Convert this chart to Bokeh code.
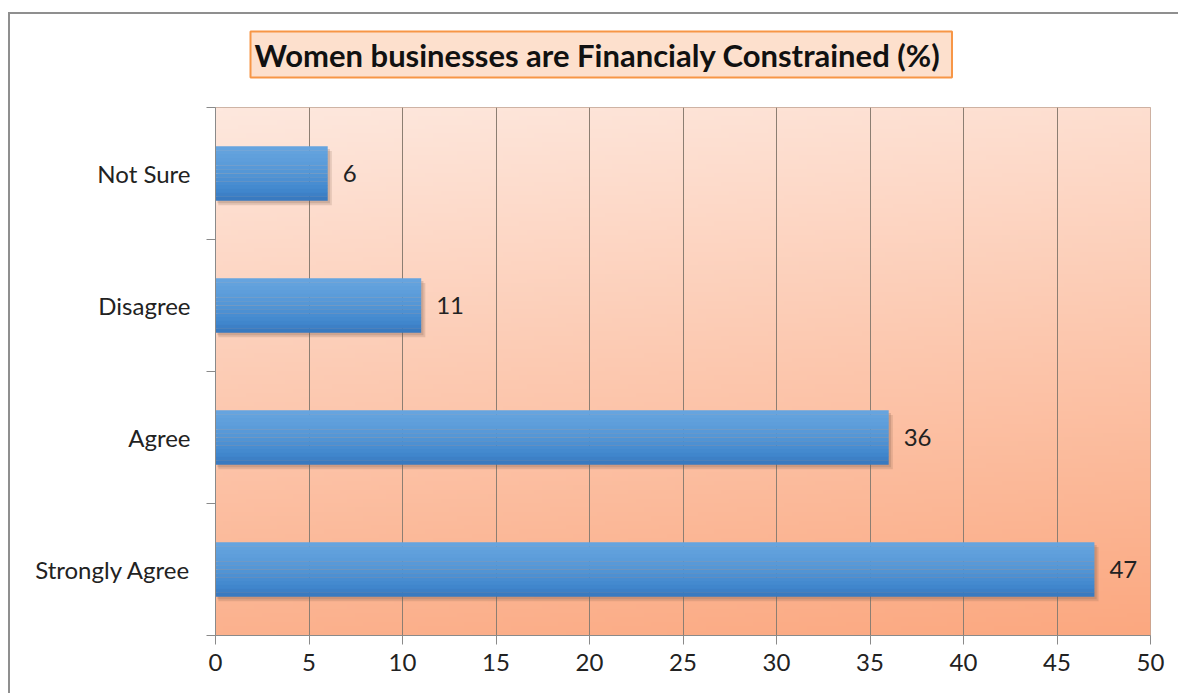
import numpy as np
from bokeh.plotting import figure
from bokeh.models import (FixedTicker, ColumnDataSource, LabelSet, Range1d, Title)
from bokeh.core.properties import value
from bokeh.embed import file_html
from bokeh.resources import INLINE

# ---- data ----
categories = ["Strongly Agree", "Agree", "Disagree", "Not Sure"]  # bottom -> top
values = [47, 36, 11, 6]
x_ticks = [0, 5, 10, 15, 20, 25, 30, 35, 40, 45, 50]
title_text = "Women businesses are Financialy  Constrained (%)"

FONT = "Lato"
FS = "24px"
BW = 2                               # outer border width
OX, OY = 8, 12                       # outer chart offset in the window
CX, CY = OX + BW, OY + BW            # canvas origin in the window
W, H = 1180 - CX, 695 - CY
L, R, T, B = 215 - CX, 30, 107 - CY, 60

p = figure(width=W, height=H, output_backend="svg", toolbar_location=None,
           x_range=Range1d(0, 50), y_range=Range1d(0, len(categories)),
           min_border_left=L, min_border_right=R, min_border_top=T, min_border_bottom=B,
           background_fill_color="white", border_fill_color="white",
           margin=(OY, 0, 0, OX),
           styles={"border-left": f"{BW}px solid #8f8f8f", "border-top": f"{BW}px solid #8f8f8f"})

# spacer between frame and title box
p.add_layout(Title(text=" ", text_font_size="1px", standoff=17, padding=0,
                   text_color="white"), "above")

p.title = Title(text=title_text, align="left", offset=35, text_font=FONT, text_font_style="bold",
                text_font_size="31px", text_color="#111111",
                background_fill_color="#fde0cd", border_line_color="#f79646",
                border_line_width=2, padding=4, standoff=20)

# background gradient of plot area
ny, nx = 120, 120
yy, xx = np.mgrid[0:ny, 0:nx]
yf = yy / (ny - 1)   # 0 bottom, 1 top
xf = xx / (nx - 1)
t = np.clip(0.85 * (1 - yf) + 0.15 * xf, 0, 1)
top = np.array([254, 232, 222])
bot = np.array([251, 168, 128])
img = np.empty((ny, nx), dtype=np.uint32)
view = img.view(dtype=np.uint8).reshape((ny, nx, 4))
for k in range(3):
    view[:, :, k] = (top[k] + (bot[k] - top[k]) * t).astype(np.uint8)
view[:, :, 3] = 255
p.image_rgba(image=[img], x=0, y=0, dw=50, dh=len(categories), level="image")

# bars
ypos = [i + 0.5 for i in range(len(categories))]
bh = 0.41
src = ColumnDataSource(dict(y=ypos, v=values, lab=[str(v) for v in values]))
# shadow
p.hbar(y=[y - 0.035 for y in ypos], left=0.15, right=[v + 0.22 for v in values],
       height=bh, fill_color="#7a5a4a", fill_alpha=0.18, line_color=None)
p.hbar(y=[y - 0.02 for y in ypos], left=0.1, right=[v + 0.12 for v in values],
       height=bh, fill_color="#7a5a4a", fill_alpha=0.22, line_color=None)
# gradient slices
stops = [(0.0, (104, 166, 224)), (0.45, (86, 152, 215)), (0.8, (66, 136, 206)), (1.0, (56, 120, 190))]
def col(f):
    for (f0, c0), (f1, c1) in zip(stops[:-1], stops[1:]):
        if f0 <= f <= f1:
            u = (f - f0) / (f1 - f0)
            return "#%02x%02x%02x" % tuple(int(a + (b - a) * u) for a, b in zip(c0, c1))
    return "#%02x%02x%02x" % stops[-1][1]
ns = 14
for s in range(ns):
    f = (s + 0.5) / ns
    yc = [y + bh / 2 - bh * (s + 0.5) / ns for y in ypos]
    p.hbar(y=yc, left=0, right=values, height=bh / ns * 1.05,
           fill_color=col(f), line_color=None)

labels = LabelSet(x="v", y="y", text="lab", source=src, x_offset=15,
                  text_align="left", text_baseline="middle",
                  text_font=value(FONT), text_font_size=value(FS), text_color="#222222")
p.add_layout(labels)

# axes styling
p.xgrid.ticker = FixedTicker(ticks=x_ticks)
p.xgrid.grid_line_color = "#8c7e72"
p.xgrid.grid_line_width = 1
p.ygrid.grid_line_color = None
p.outline_line_color = "#bfa393"
p.outline_line_width = 1

xa = p.xaxis[0]
xa.ticker = FixedTicker(ticks=x_ticks, minor_ticks=[])
xa.axis_line_color = "#8a8a8a"
xa.major_tick_line_color = "#8a8a8a"
xa.major_tick_in = 0
xa.major_tick_out = 9
xa.minor_tick_line_color = None
xa.major_label_text_font = FONT
xa.major_label_text_font_size = FS
xa.major_label_text_color = "#222222"
xa.major_label_standoff = 9

ya = p.yaxis[0]
ya.ticker = FixedTicker(ticks=ypos, minor_ticks=list(range(len(categories) + 1)))
ya.major_label_overrides = {y: c for y, c in zip(ypos, categories)}
ya.axis_line_color = "#8a8a8a"
ya.major_tick_line_color = None
ya.major_tick_in = 0
ya.major_tick_out = 0
ya.minor_tick_line_color = "#8a8a8a"
ya.minor_tick_in = 0
ya.minor_tick_out = 9
ya.major_label_text_font = FONT
ya.major_label_text_font_size = FS
ya.major_label_text_color = "#222222"
ya.major_label_standoff = 16

open("out.html", "w").write(file_html(p, INLINE))
